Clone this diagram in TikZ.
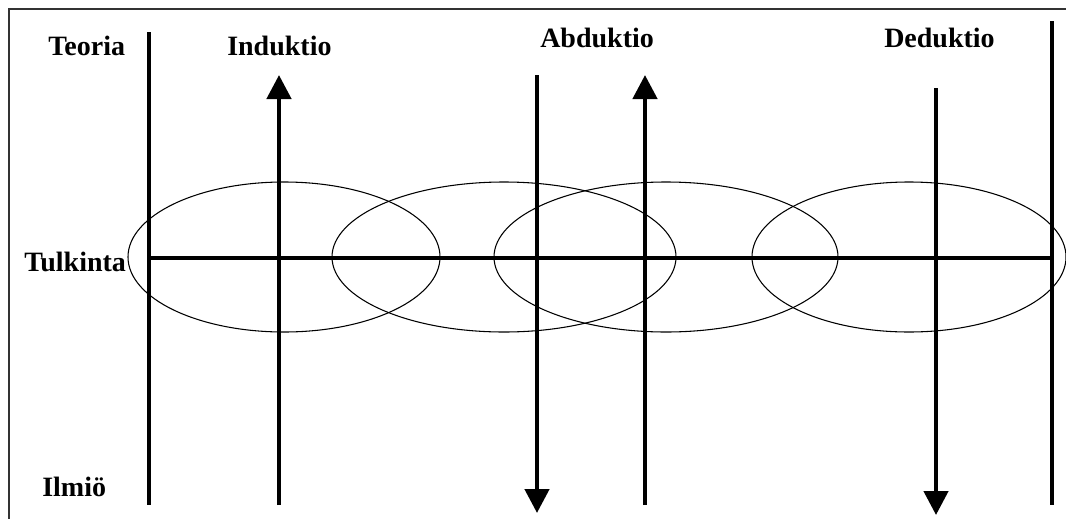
\documentclass[tikz,border=0pt]{standalone}
\usepackage{fontspec}
\setmainfont{Liberation Serif}
\usetikzlibrary{arrows.meta}
\begin{document}
\begin{tikzpicture}[x=0.75pt,y=-0.75pt,
  axis/.style={line width=3.4pt},
  flow/.style={line width=3.4pt,-{Triangle[width=18pt,length=18pt]}},
  loop/.style={draw,line width=0.8pt},
  lbl/.style={anchor=base west,inner sep=0pt,font=\fontsize{21}{25}\selectfont\bfseries},
  frame/.style={line width=1.4pt,black!80}]
\useasboundingbox (0,0) rectangle (1066,518);
\draw[frame] (1070,9) -- (9,9) -- (9,522);
% ellipses
\draw[loop] (284,257) ellipse [x radius=156,y radius=75];
\draw[loop] (504,257) ellipse [x radius=172,y radius=75];
\draw[loop] (666,257) ellipse [x radius=172,y radius=75];
\draw[loop] (909,257) ellipse [x radius=157,y radius=75];
% coordinates
\coordinate (lt) at (149,32);
\coordinate (lb) at (149,505);
\coordinate (rt) at (1052,21);
\coordinate (rb) at (1052,505);
\coordinate (hl) at (149,258);
\coordinate (hr) at (1052,258);
\coordinate (i0) at (279,505);
\coordinate (i1) at (279,75);
\coordinate (a0) at (537,75);
\coordinate (a1) at (537,513);
\coordinate (b0) at (645,505);
\coordinate (b1) at (645,75);
\coordinate (d0) at (936,88);
\coordinate (d1) at (936,515);
\draw[axis] (lt) -- (lb);
\draw[axis] (rt) -- (rb);
\draw[axis] (hl) -- (hr);
\draw[flow] (i0) -- (i1);
\draw[flow] (a0) -- (a1);
\draw[flow] (b0) -- (b1);
\draw[flow] (d0) -- (d1);
% labels
\node[lbl] (teoria) at (48,55) {Teoria};
\node[lbl] (induktio) at (227,55) {Induktio};
\node[lbl] (abduktio) at (540,47) {Abduktio};
\node[lbl] (deduktio) at (884,47) {Deduktio};
\node[lbl] (tulkinta) at (24,271) {Tulkinta};
\node[lbl] (ilmio) at (42,496) {Ilmiö};
\end{tikzpicture}
\end{document}
